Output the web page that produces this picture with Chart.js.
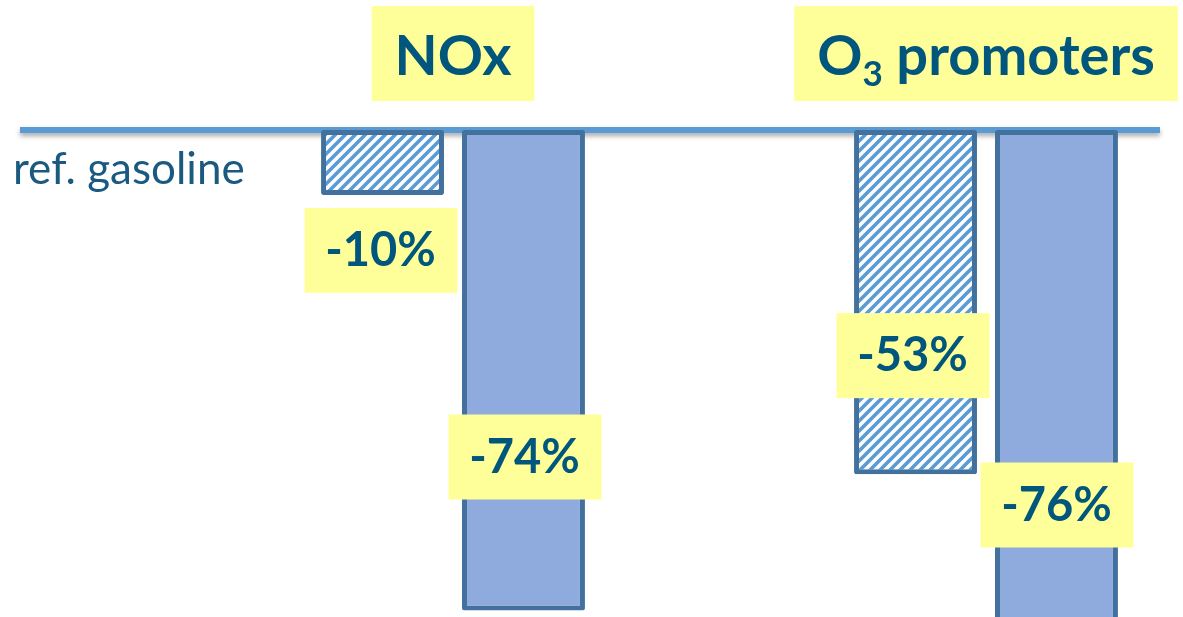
<!DOCTYPE html>
<html>
<head>
<meta charset="utf-8">
<script src="https://cdn.jsdelivr.net/npm/chart.js@4"></script>
<style>
  html, body { margin: 0; padding: 0; background: #fff; overflow: hidden; }
  canvas { display: block; }
</style>
</head>
<body>
<canvas id="myChart" width="1183" height="617"></canvas>
<script>
// reduction vs. reference gasoline, in percent
var categories = ["NOx", "O3 promoters"];
var hatchedValues = [-10, -53];
var solidValues = [-74, -76];
var refLabel = "ref. gasoline";

var FONT = 'Lato, "Open Sans", sans-serif';
var TEXT_COLOR = "#00567c";
var YELLOW = "#ffff99";

// where each value box sits relative to the end of its bar: [dx, dy]
var boxShift = {
    hatched: [[-2, 55], [-3, -119]],
    solid: [[1, -154], [0, -119]]
};

function makeHatch() {
    var c = document.createElement("canvas");
    c.width = 10;
    c.height = 10;
    var g = c.getContext("2d");
    g.fillStyle = "#ffffff";
    g.fillRect(0, 0, 10, 10);
    g.strokeStyle = "#5b9bd5";
    g.lineWidth = 3.6;
    g.beginPath();
    g.moveTo(-1, 11); g.lineTo(11, -1);
    g.moveTo(-5, 5); g.lineTo(5, -5);
    g.moveTo(5, 15); g.lineTo(15, 5);
    g.stroke();
    return g.createPattern(c, "repeat");
}

// draws "O3" style text with the digit as a subscript
function drawFormula(ctx, text, cx, baseline, size) {
    var parts = text.split(/(\d)/).filter(function (p) { return p !== ""; });
    var main = "bold " + size + "px " + FONT;
    var sub = "bold " + Math.round(size * 0.62) + "px " + FONT;
    var x = cx - formulaWidth(ctx, text, size) / 2;
    ctx.textAlign = "left";
    ctx.textBaseline = "alphabetic";
    parts.forEach(function (p) {
        var isSub = /^\d$/.test(p);
        ctx.font = isSub ? sub : main;
        ctx.fillText(p, x, isSub ? baseline + size * 0.2 : baseline);
        x += ctx.measureText(p).width;
    });
}

function formulaWidth(ctx, text, size) {
    var w = 0;
    text.split(/(\d)/).forEach(function (p) {
        if (p === "") return;
        ctx.font = "bold " + (/^\d$/.test(p) ? Math.round(size * 0.62) : size) + "px " + FONT;
        w += ctx.measureText(p).width;
    });
    return w;
}

var decor = {
    id: "decor",
    beforeDatasetsDraw: function (chart) {
        var ctx = chart.ctx;
        var y0 = chart.scales.y.getPixelForValue(0);

        // reference line with a soft shadow
        ctx.save();
        ctx.shadowColor = "rgba(0,0,0,0.35)";
        ctx.shadowBlur = 5;
        ctx.shadowOffsetY = 3;
        ctx.fillStyle = "#5b9bd5";
        ctx.fillRect(20, y0 - 3, 1140, 6);
        ctx.restore();

        ctx.save();
        ctx.fillStyle = "#1b5a80";
        ctx.font = "44px " + FONT;
        ctx.textAlign = "left";
        ctx.textBaseline = "alphabetic";
        ctx.fillText(refLabel, 13, y0 + 54);
        ctx.restore();
    },
    afterDatasetsDraw: function (chart) {
        var ctx = chart.ctx;
        var xScale = chart.scales.x;

        // category titles on yellow boxes
        ctx.save();
        categories.forEach(function (cat, i) {
            var cx = xScale.getPixelForValue(i);
            var size = 56;
            var w = formulaWidth(ctx, cat, size) + 46;
            ctx.fillStyle = YELLOW;
            ctx.fillRect(cx - w / 2, 6, w, 95);
            ctx.fillStyle = TEXT_COLOR;
            drawFormula(ctx, cat, cx, 75, size);
        });
        ctx.restore();

        // value boxes
        ctx.save();
        [["hatched", 0], ["solid", 1]].forEach(function (pair) {
            var meta = chart.getDatasetMeta(pair[1]);
            var values = chart.data.datasets[pair[1]].data;
            meta.data.forEach(function (bar, i) {
                var s = boxShift[pair[0]][i];
                var cx = bar.x + s[0];
                var cy = bar.y + s[1];
                ctx.fillStyle = YELLOW;
                ctx.fillRect(cx - 76, cy - 42, 153, 85);
                ctx.fillStyle = TEXT_COLOR;
                ctx.font = "bold 47px " + FONT;
                ctx.textAlign = "center";
                ctx.textBaseline = "middle";
                ctx.fillText(values[i] + "%", cx, cy + 1);
            });
        });
        ctx.restore();
    }
};

var ctx = document.getElementById("myChart").getContext("2d");

var myChart = new Chart(ctx, {
    type: "bar",
    data: {
        labels: categories,
        datasets: [
            {
                label: "hatched",
                data: hatchedValues,
                backgroundColor: makeHatch(),
                borderColor: "#41719c",
                borderWidth: 5,
                borderSkipped: false,
                borderRadius: 2,
                clip: false
            },
            {
                label: "solid",
                data: solidValues,
                backgroundColor: "#8faadc",
                borderColor: "#41719c",
                borderWidth: 5,
                borderSkipped: false,
                borderRadius: 2,
                clip: false
            }
        ]
    },
    options: {
        responsive: false,
        animation: false,
        events: [],
        categoryPercentage: 0.529,
        barPercentage: 0.872,
        layout: { padding: { left: 453, right: 197, top: 130, bottom: 0 } },
        plugins: {
            legend: { display: false },
            tooltip: { enabled: false }
        },
        scales: {
            x: { display: false, offset: false },
            y: { display: false, min: -75, max: 0 }
        }
    },
    plugins: [decor]
});
</script>
</body>
</html>
